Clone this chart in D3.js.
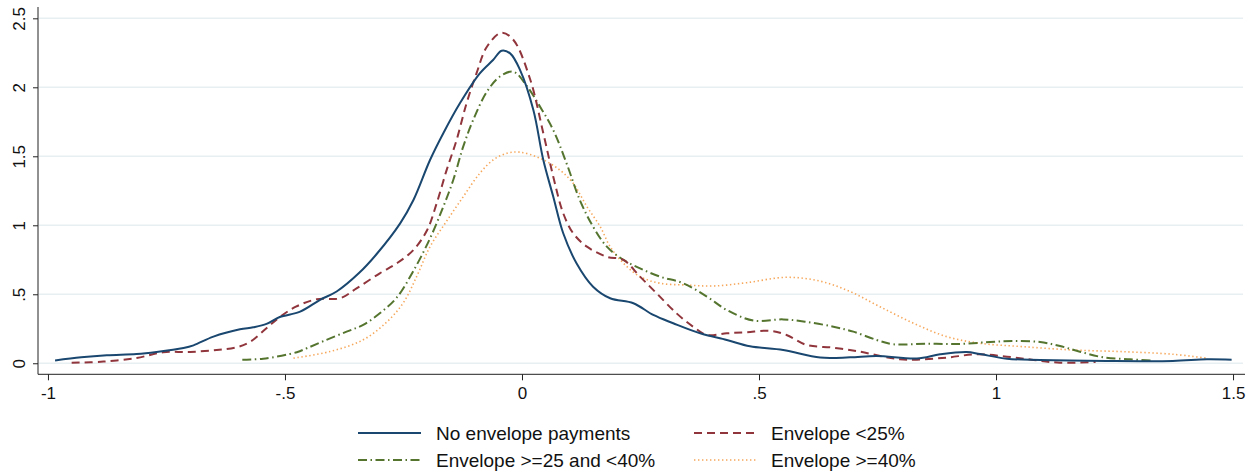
<!DOCTYPE html>
<html>
<head>
<meta charset="utf-8">
<script src="https://cdn.jsdelivr.net/npm/d3@7"></script>
<style>
    body { margin: 0; background: #ffffff; }
    svg { display: block; font-family: "Liberation Sans", Arial, sans-serif; }
</style>
</head>
<body>
<div id="chart"></div>
<script>
// kernel density estimates
const noEnvX = [-0.985, -0.93, -0.876, -0.813, -0.771, -0.714, -0.693, -0.651, -0.595, -0.567, -0.539, -0.511, -0.468, -0.426, -0.391, -0.345, -0.307, -0.257, -0.229, -0.194, -0.166, -0.131, -0.089, -0.061, -0.043, -0.025, -0.004, 0.024, 0.045, 0.066, 0.087, 0.115, 0.15, 0.186, 0.235, 0.277, 0.319, 0.376, 0.432, 0.481, 0.551, 0.629, 0.692, 0.748, 0.833, 0.882, 0.938, 0.966, 1.023, 1.093, 1.234, 1.373, 1.445, 1.497];
const noEnvY = [0.02, 0.043, 0.058, 0.067, 0.082, 0.111, 0.13, 0.193, 0.246, 0.261, 0.285, 0.335, 0.374, 0.46, 0.52, 0.65, 0.79, 1.014, 1.183, 1.473, 1.667, 1.884, 2.101, 2.198, 2.265, 2.246, 2.125, 1.836, 1.473, 1.207, 0.942, 0.725, 0.555, 0.471, 0.435, 0.35, 0.29, 0.217, 0.169, 0.123, 0.096, 0.041, 0.043, 0.053, 0.035, 0.065, 0.082, 0.067, 0.033, 0.024, 0.017, 0.017, 0.029, 0.026];

const envLowX = [-0.95, -0.883, -0.813, -0.757, -0.70, -0.644, -0.602, -0.574, -0.539, -0.511, -0.477, -0.433, -0.384, -0.349, -0.30, -0.264, -0.229, -0.20, -0.18, -0.159, -0.138, -0.117, -0.096, -0.074, -0.043, -0.018, 0.017, 0.045, 0.066, 0.087, 0.108, 0.137, 0.179, 0.214, 0.249, 0.284, 0.326, 0.361, 0.39, 0.432, 0.474, 0.523, 0.558, 0.60, 0.657, 0.713, 0.762, 0.797, 0.833, 0.896, 0.959, 1.023, 1.079, 1.135, 1.21];
const envLowY = [0.004, 0.012, 0.038, 0.08, 0.082, 0.096, 0.116, 0.154, 0.254, 0.335, 0.41, 0.464, 0.471, 0.543, 0.652, 0.725, 0.821, 0.966, 1.159, 1.40, 1.618, 1.884, 2.101, 2.294, 2.396, 2.343, 2.06, 1.667, 1.352, 1.087, 0.942, 0.845, 0.772, 0.749, 0.628, 0.507, 0.362, 0.265, 0.205, 0.217, 0.225, 0.235, 0.205, 0.133, 0.113, 0.084, 0.048, 0.029, 0.026, 0.041, 0.065, 0.048, 0.024, 0.004, 0.01];

const envMidX = [-0.59, -0.546, -0.475, -0.454, -0.419, -0.37, -0.335, -0.30, -0.264, -0.229, -0.194, -0.166, -0.145, -0.124, -0.103, -0.074, -0.046, -0.018, 0.01, 0.038, 0.066, 0.094, 0.122, 0.15, 0.179, 0.214, 0.249, 0.291, 0.34, 0.39, 0.432, 0.488, 0.551, 0.60, 0.657, 0.699, 0.748, 0.783, 0.854, 0.924, 0.987, 1.037, 1.093, 1.135, 1.177, 1.226, 1.283, 1.332];
const envMidY = [0.026, 0.033, 0.08, 0.109, 0.16, 0.229, 0.278, 0.362, 0.477, 0.67, 0.905, 1.135, 1.328, 1.57, 1.763, 1.968, 2.08, 2.113, 2.01, 1.86, 1.69, 1.449, 1.183, 0.99, 0.845, 0.749, 0.688, 0.628, 0.58, 0.483, 0.386, 0.31, 0.318, 0.30, 0.265, 0.229, 0.169, 0.138, 0.142, 0.14, 0.154, 0.162, 0.154, 0.125, 0.084, 0.043, 0.029, 0.019];

const envHighX = [-0.482, -0.405, -0.335, -0.285, -0.25, -0.222, -0.194, -0.159, -0.124, -0.089, -0.061, -0.032, -0.004, 0.038, 0.08, 0.108, 0.137, 0.165, 0.186, 0.214, 0.249, 0.291, 0.347, 0.404, 0.474, 0.558, 0.629, 0.692, 0.755, 0.826, 0.896, 0.966, 1.058, 1.163, 1.269, 1.374, 1.445];
const envHighY = [0.037, 0.085, 0.17, 0.30, 0.44, 0.63, 0.845, 1.03, 1.207, 1.377, 1.473, 1.522, 1.53, 1.486, 1.40, 1.304, 1.135, 0.99, 0.845, 0.725, 0.628, 0.58, 0.567, 0.56, 0.584, 0.623, 0.595, 0.52, 0.41, 0.29, 0.193, 0.145, 0.12, 0.096, 0.084, 0.065, 0.036];

const seriesNames = ["No envelope payments", "Envelope <25%", "Envelope >=25 and <40%", "Envelope >=40%"];
const xTicks = [-1, -0.5, 0, 0.5, 1, 1.5];
const xTickLabels = ["-1", "-.5", "0", ".5", "1", "1.5"];
const yTicks = [0, 0.5, 1, 1.5, 2, 2.5];
const yTickLabels = ["0", ".5", "1", "1.5", "2", "2.5"];

const size = { width: 1254, height: 471 };
const plot = { left: 38, right: 1243, top: 7, bottom: 374.3 };

const styles = [
    { color: "#1a476f", width: 2, dash: null },
    { color: "#90353b", width: 2, dash: "8,5" },
    { color: "#55752f", width: 2, dash: "9,3.5,1.5,3.5" },
    { color: "#f6a75a", width: 1.6, dash: "1.4,2.6" }
];

const svg = d3.select("#chart")
    .append("svg")
    .attr("width", size.width)
    .attr("height", size.height);

const xScale = d3.scaleLinear()
    .domain([-1.021, 1.521])
    .range([plot.left, plot.right]);

const yScale = d3.scaleLinear()
    .domain([-0.08, 2.582])
    .range([plot.bottom, plot.top]);

// grid lines
svg.append("g")
    .selectAll("line")
    .data(yTicks)
    .join("line")
    .attr("x1", plot.left + 1)
    .attr("x2", plot.right)
    .attr("y1", d => yScale(d))
    .attr("y2", d => yScale(d))
    .attr("stroke", "#e8eff2")
    .attr("stroke-width", 1.5);

const seriesData = [
    d3.zip(noEnvX, noEnvY),
    d3.zip(envLowX, envLowY),
    d3.zip(envMidX, envMidY),
    d3.zip(envHighX, envHighY)
];

const line = d3.line()
    .x(d => xScale(d[0]))
    .y(d => yScale(d[1]))
    .curve(d3.curveCatmullRom.alpha(0.5));

// draw back to front so the solid line sits on top
[3, 2, 1, 0].forEach(i => {
    svg.append("path")
        .datum(seriesData[i])
        .attr("fill", "none")
        .attr("stroke", styles[i].color)
        .attr("stroke-width", styles[i].width)
        .attr("stroke-dasharray", styles[i].dash)
        .attr("stroke-linejoin", "round")
        .attr("d", line);
});

// axes
const yAxis = d3.axisLeft(yScale)
    .tickValues(yTicks)
    .tickFormat((d, i) => yTickLabels[i])
    .tickSize(5)
    .tickSizeOuter(0);

const yAxisG = svg.append("g")
    .attr("transform", "translate(" + plot.left + ",0)")
    .call(yAxis);
yAxisG.select(".domain").attr("stroke", "#222").attr("d", "M0," + plot.top + "V" + plot.bottom);
yAxisG.selectAll(".tick line").attr("stroke", "#222");
yAxisG.selectAll(".tick text")
    .attr("font-size", 17)
    .attr("fill", "#111")
    .attr("text-anchor", "middle")
    .attr("x", 0)
    .attr("dy", 0)
    .attr("transform", "translate(-13,0) rotate(-90)");

const xAxis = d3.axisBottom(xScale)
    .tickValues(xTicks)
    .tickFormat((d, i) => xTickLabels[i])
    .tickSize(6)
    .tickSizeOuter(0);

const xAxisG = svg.append("g")
    .attr("transform", "translate(0," + plot.bottom + ")")
    .call(xAxis);
xAxisG.select(".domain").attr("stroke", "#222").attr("d", "M" + plot.left + ",0H" + (plot.right + 2));
xAxisG.selectAll(".tick line").attr("stroke", "#222");
xAxisG.selectAll(".tick text")
    .attr("font-size", 17)
    .attr("fill", "#111")
    .attr("y", 13);

// legend, two columns
const legendPos = [
    { x: 358, y: 433 },
    { x: 694, y: 433 },
    { x: 358, y: 460 },
    { x: 694, y: 460 }
];

const legend = svg.append("g");
seriesNames.forEach((name, i) => {
    const p = legendPos[i];
    legend.append("line")
        .attr("x1", p.x)
        .attr("x2", p.x + 63)
        .attr("y1", p.y)
        .attr("y2", p.y)
        .attr("stroke", styles[i].color)
        .attr("stroke-width", styles[i].width)
        .attr("stroke-dasharray", styles[i].dash);
    legend.append("text")
        .attr("x", p.x + (i % 2 === 0 ? 78 : 77))
        .attr("y", p.y)
        .attr("dy", "0.35em")
        .attr("font-size", 19)
        .attr("fill", "#111")
        .text(name);
});
</script>
</body>
</html>
